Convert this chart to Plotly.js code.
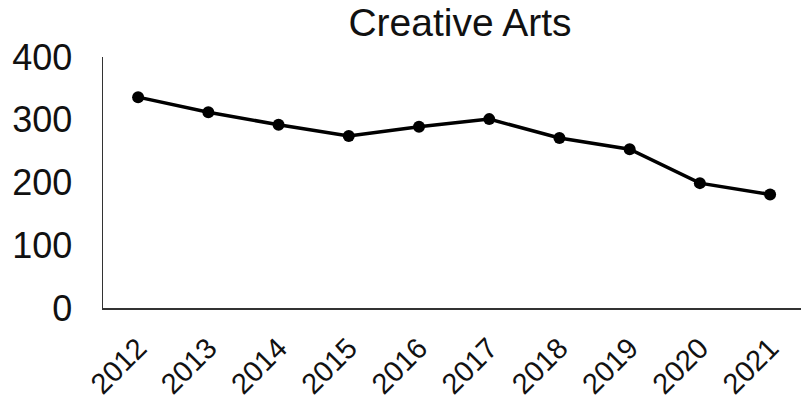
<!DOCTYPE html>
<html>
<head>
<meta charset="utf-8">
<script src="https://cdn.plot.ly/plotly-3.0.1.min.js"></script>
<style>html,body{margin:0;padding:0;background:#fff;}#chart{width:802px;height:402px;}</style>
</head>
<body>
<div id="chart"></div>
<script>
const years = ['2012','2013','2014','2015','2016','2017','2018','2019','2020','2021'];
const values = [336, 312, 292, 274, 289, 301, 271, 253, 199, 181];
const yTicks = [0, 100, 200, 300, 400];
const chartTitle = 'Creative Arts';

const font = 'Arial, "Liberation Sans", sans-serif';
Plotly.newPlot('chart', [{
  x: years, y: values, type: 'scatter', mode: 'lines+markers',
  line: {color: '#000', width: 3.5},
  marker: {color: '#000', size: 12}
}], {
  width: 802, height: 402,
  margin: {l: 103, r: 1, t: 57, b: 94},
  paper_bgcolor: '#fff', plot_bgcolor: '#fff',
  showlegend: false,
  title: {text: chartTitle, font: {family: font, size: 39, color: '#111'},
          x: 460/802, xanchor: 'center', xref: 'container', y: 0.945, yanchor: 'middle', yref: 'container'},
  xaxis: {type: 'category', range: [-0.5, 9.44], showgrid: false, zeroline: false,
          showline: true, linecolor: '#333', linewidth: 1.5, ticks: '',
          tickangle: -45, ticklabelstandoff: 10,
          tickfont: {family: font, size: 29, color: '#111'}},
  yaxis: {range: [0, 400], tickvals: yTicks, showgrid: false, zeroline: false,
          showline: true, linecolor: '#333', linewidth: 1.5, ticks: '',
          ticklabelstandoff: 22,
          tickfont: {family: font, size: 36, color: '#111'}}
}, {staticPlot: true});
</script>
</body>
</html>
